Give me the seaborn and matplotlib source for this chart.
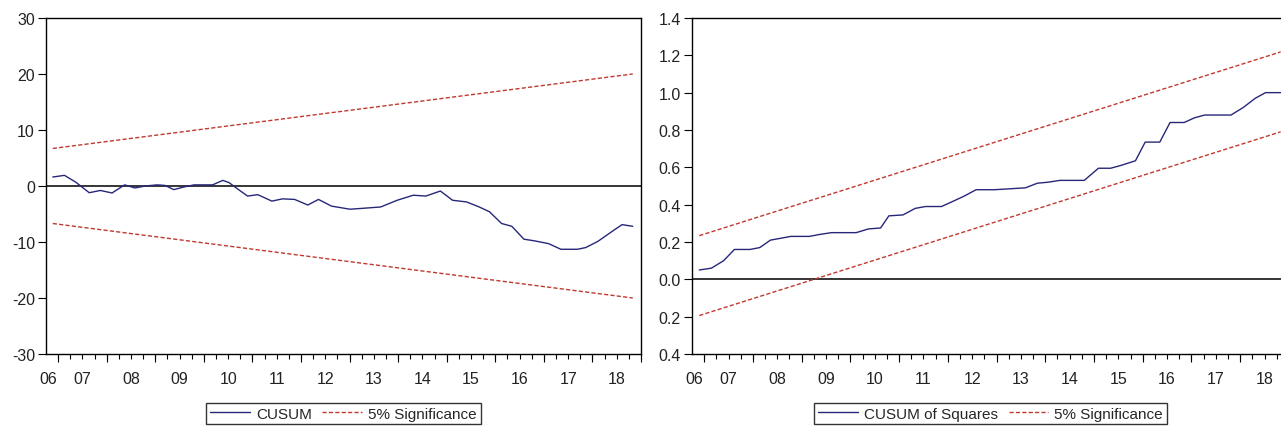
import numpy as np
import pandas as pd
import matplotlib
matplotlib.use("Agg")
import matplotlib.pyplot as plt
import seaborn as sns

# CUSUM test
cusum_t = [2006.89, 2007.13, 2007.36, 2007.64, 2007.87, 2008.11, 2008.37, 2008.58, 2008.80,
           2009.04, 2009.20, 2009.38, 2009.58, 2009.80, 2010.18, 2010.39, 2010.52, 2010.69,
           2010.90, 2011.11, 2011.40, 2011.62, 2011.87, 2012.14, 2012.36, 2012.63, 2013.01,
           2013.25, 2013.64, 2013.98, 2014.31, 2014.57, 2014.87, 2015.12, 2015.41, 2015.67,
           2015.88, 2016.13, 2016.34, 2016.59, 2016.81, 2017.10, 2017.35, 2017.69, 2017.86,
           2018.11, 2018.44, 2018.61, 2018.83]
cusum = [1.6, 1.9, 0.7, -1.2, -0.8, -1.25, 0.2, -0.35, 0.0,
         0.2, 0.1, -0.65, -0.2, 0.2, 0.2, 1.0, 0.6, -0.5,
         -1.8, -1.55, -2.7, -2.3, -2.4, -3.4, -2.4, -3.6, -4.15,
         -4.0, -3.75, -2.55, -1.65, -1.8, -0.9, -2.55, -2.85, -3.75,
         -4.6, -6.7, -7.2, -9.5, -9.8, -10.3, -11.3, -11.3, -11.0,
         -9.9, -7.9, -6.9, -7.2]
cusum_band_t = [2006.89, 2018.83]
cusum_upper = [6.7, 20.0]
cusum_lower = [-6.7, -20.0]

# CUSUM of squares test
sq_t = [2006.90, 2007.15, 2007.40, 2007.62, 2007.94, 2008.14, 2008.36, 2008.57, 2008.78,
        2009.16, 2009.36, 2009.61, 2010.12, 2010.37, 2010.62, 2010.79, 2011.08, 2011.33,
        2011.54, 2011.87, 2012.04, 2012.33, 2012.58, 2012.96, 2013.59, 2013.84, 2014.05,
        2014.30, 2014.80, 2015.09, 2015.34, 2015.55, 2015.85, 2016.05, 2016.35, 2016.56,
        2016.85, 2017.06, 2017.27, 2017.81, 2018.06, 2018.31, 2018.52, 2018.83]
cusum_sq = [0.05, 0.06, 0.10, 0.16, 0.16, 0.17, 0.21, 0.22, 0.23,
            0.23, 0.24, 0.25, 0.25, 0.27, 0.275, 0.34, 0.345, 0.38,
            0.39, 0.39, 0.41, 0.445, 0.48, 0.48, 0.49, 0.515, 0.52,
            0.53, 0.53, 0.595, 0.595, 0.61, 0.635, 0.735, 0.735, 0.84,
            0.84, 0.865, 0.88, 0.88, 0.92, 0.97, 1.0, 1.0]
sq_band_t = [2006.90, 2018.83]
sq_upper = [0.234, 1.218]
sq_lower = [-0.194, 0.790]

years = list(range(2006, 2019))
year_labels = ["06", "07", "08", "09", "10", "11", "12", "13", "14", "15", "16", "17", "18"]
left_yticks = [-30, -20, -10, 0, 10, 20, 30]
right_yticks = [-0.4, -0.2, 0.0, 0.2, 0.4, 0.6, 0.8, 1.0, 1.2, 1.4]
right_ylabels = ["0.4", "0.2", "0.0", "0.2", "0.4", "0.6", "0.8", "1.0", "1.2", "1.4"]

sns.set_style("white")
plt.rcParams["font.family"] = ["Liberation Sans", "DejaVu Sans"]

blue = "#27277a"
red = "#c0392f"
fs = 11.5
xmin, xmax = 2006.75, 2019.0

fig = plt.figure(figsize=(12.81, 4.27), dpi=100)
ax1 = fig.add_axes([0.0359, 0.1686, 0.4645, 0.787])
ax2 = fig.add_axes([0.5402, 0.1686, 0.466, 0.787])


def draw(ax, t, y, bt, up, lo, label, yticks, ylabels, ylim):
    df = pd.DataFrame({"t": t, "v": y})
    band = pd.DataFrame({"t": bt, "up": up, "lo": lo})
    ax.axhline(0, color="black", lw=1.1, zorder=1)
    sns.lineplot(data=df, x="t", y="v", ax=ax, color=blue, lw=1.0, label=label)
    sns.lineplot(data=band, x="t", y="up", ax=ax, color=red, lw=1.0,
                 linestyle=(0, (3, 1.6)), label="5% Significance")
    sns.lineplot(data=band, x="t", y="lo", ax=ax, color=red, lw=1.0,
                 linestyle=(0, (3, 1.6)))
    ax.set_xlim(xmin, xmax)
    ax.set_ylim(*ylim)
    ax.set_xlabel("")
    ax.set_ylabel("")
    ax.set_yticks(yticks)
    ax.set_yticklabels(ylabels, fontsize=fs, color="#222222")
    # year labels in the middle of each year, first one at the start of the axis
    pos = [max(y + 0.5, xmin + 0.05) for y in years]
    ax.set_xticks(pos)
    ax.set_xticklabels(year_labels, fontsize=fs, color="#222222")
    ax.xaxis.remove_overlapping_locs = False
    ax.set_xticks(np.arange(2007, 2019.01, 0.25), minor=True)
    ax.tick_params(axis="x", which="both", bottom=True)
    ax.tick_params(axis="x", which="major", length=0, pad=12)
    ax.tick_params(axis="x", which="minor", length=3.5, width=0.8, color="black",
                   direction="out")
    sec = ax.secondary_xaxis(0)
    sec.set_xticks(years[1:] + [2019])
    sec.set_xticklabels([])
    sec.tick_params(bottom=True, length=6, width=0.8, color="black", direction="out")
    sec.spines["bottom"].set_visible(False)
    ax.tick_params(axis="y", length=6, width=0.8, color="black", left=True, pad=2)
    for s in ax.spines.values():
        s.set_color("black")
        s.set_linewidth(1.0)
    h, l = ax.get_legend_handles_labels()
    ax.legend(h, l, loc="upper center", bbox_to_anchor=(0.5, -0.145), ncol=2,
              frameon=True, fancybox=False, edgecolor="black", fontsize=11,
              handlelength=2.6, handletextpad=0.4, columnspacing=0.7,
              borderpad=0.25, borderaxespad=0)


draw(ax1, cusum_t, cusum, cusum_band_t, cusum_upper, cusum_lower, "CUSUM",
     left_yticks, [str(v) for v in left_yticks], (-30, 30))
draw(ax2, sq_t, cusum_sq, sq_band_t, sq_upper, sq_lower, "CUSUM of Squares",
     right_yticks, right_ylabels, (-0.4, 1.4))

fig.savefig("out.png", dpi=100)
